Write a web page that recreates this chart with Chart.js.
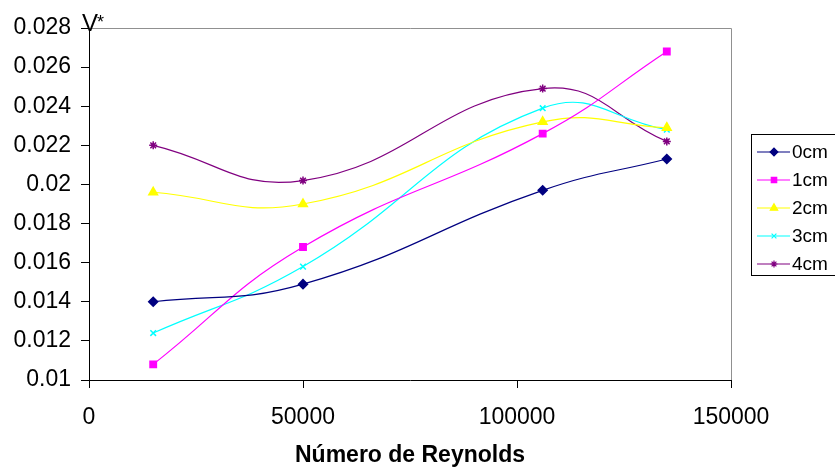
<!DOCTYPE html>
<html>
<head>
<meta charset="utf-8">
<script src="https://cdn.jsdelivr.net/npm/chart.js@4/dist/chart.umd.min.js"></script>
<style>
html,body{margin:0;padding:0;background:#fff;}
#wrap{width:835px;height:469px;position:relative;}
</style>
</head>
<body>
<div id="wrap"><canvas id="c"></canvas></div>
<script>
const reynolds = [15000, 50000, 106000, 135000];
const v0cm = [0.0140, 0.0149, 0.0197, 0.0213];
const v1cm = [0.0108, 0.0168, 0.0226, 0.0268];
const v2cm = [0.0196, 0.0190, 0.0232, 0.0229];
const v3cm = [0.0124, 0.0158, 0.0239, 0.0228];
const v4cm = [0.0220, 0.0202, 0.0249, 0.0222];
const seriesNames = ['0cm', '1cm', '2cm', '3cm', '4cm'];
const xTicks = [0, 50000, 100000, 150000];
const yTicks = [0.01, 0.012, 0.014, 0.016, 0.018, 0.02, 0.022, 0.024, 0.026, 0.028];
const xTitle = 'Número de Reynolds';
const yTitle = 'V*';

const styles = [
  {color:'#000080', point:'rectRot', r:4.5},
  {color:'#FF00FF', point:'rect', r:4.5},
  {color:'#FFFF00', point:'triangle', r:5},
  {color:'#00FFFF', point:'crossRot', r:4},
  {color:'#800080', point:'star', r:4}
];
const allSeries = [v0cm, v1cm, v2cm, v3cm, v4cm];

const datasets = allSeries.map((vals, i) => ({
  label: seriesNames[i],
  data: vals.map((v, j) => ({x: reynolds[j], y: v})),
  borderColor: styles[i].color,
  backgroundColor: styles[i].color,
  pointStyle: styles[i].point,
  pointRadius: styles[i].r,
  pointBorderWidth: 1.5,
  borderWidth: 1.2,
  tension: 0.45,
  fill: false
}));

const FONT = "'Liberation Sans', Arial, sans-serif";

const framePlugin = {
  id: 'frame',
  beforeDatasetsDraw(chart) {
    const {ctx, chartArea: a} = chart;
    ctx.save();
    ctx.strokeStyle = '#909090';
    ctx.lineWidth = 1;
    ctx.beginPath();
    ctx.moveTo(a.left, a.top + 0.5);
    ctx.lineTo(a.right + 0.5, a.top + 0.5);
    ctx.lineTo(a.right + 0.5, a.bottom);
    ctx.stroke();
    ctx.restore();
  },
  afterDraw(chart) {
    const {ctx} = chart;
    ctx.save();
    // y title
    ctx.fillStyle = '#000';
    ctx.font = '24px ' + FONT;
    ctx.textBaseline = 'alphabetic';
    ctx.textAlign = 'left';
    ctx.fillText(yTitle.charAt(0), 82, 31);
    ctx.font = '18px ' + FONT;
    ctx.fillText(yTitle.slice(1), 97, 28);
    // legend
    const bx = 751.5, by = 134.5, bw = 100, bh = 141;
    ctx.fillStyle = '#fff';
    ctx.fillRect(bx, by, bw, bh);
    ctx.strokeStyle = '#000';
    ctx.lineWidth = 1;
    ctx.strokeRect(bx, by, bw, bh);
    chart.data.datasets.forEach((ds, i) => {
      const y = 152 + i * 28;
      ctx.strokeStyle = ds.borderColor;
      ctx.lineWidth = 1.2;
      ctx.beginPath();
      ctx.moveTo(757, y);
      ctx.lineTo(790, y);
      ctx.stroke();
      ctx.fillStyle = ds.borderColor;
      ctx.strokeStyle = ds.borderColor;
      Chart.helpers.drawPoint(ctx, {pointStyle: ds.pointStyle, radius: ds.pointRadius * 0.85, borderWidth: 1.5, rotation: 0}, 774, y);
      ctx.fillStyle = '#000';
      ctx.font = '19px ' + FONT;
      ctx.textBaseline = 'middle';
      ctx.textAlign = 'left';
      ctx.fillText(ds.label, 792, y + 1);
    });
    ctx.restore();
  }
};

new Chart(document.getElementById('c'), {
  type: 'line',
  data: {datasets},
  plugins: [framePlugin],
  options: {
    responsive: true,
    maintainAspectRatio: false,
    animation: false,
    layout: {padding: {left: 0, top: 28, right: 104, bottom: 0}},
    plugins: {legend: {display: false}, tooltip: {enabled: false}},
    scales: {
      x: {
        type: 'linear',
        min: 0, max: 150000,
        afterBuildTicks(scale) { scale.ticks = xTicks.map(v => ({value: v})); },
        afterFit(scale) { scale.height = 89; },
        ticks: {
          callback: v => String(v),
          color: '#000',
          font: {family: FONT, size: 23},
          padding: 16,
          maxRotation: 0
        },
        grid: {display: true, drawOnChartArea: false, drawTicks: true, tickLength: 8, color: '#000'},
        border: {display: true, color: '#000', width: 1},
        title: {
          display: true, text: xTitle, color: '#000',
          font: {family: FONT, size: 23, weight: 'bold'},
          padding: {top: 0, bottom: 0}
        }
      },
      y: {
        type: 'linear',
        min: 0.01, max: 0.028,
        afterBuildTicks(scale) { scale.ticks = yTicks.map(v => ({value: v})); },
        afterFit(scale) { scale.width = 89; },
        ticks: {
          callback: v => String(+v.toFixed(3)),
          color: '#000',
          font: {family: FONT, size: 23},
          padding: 10
        },
        grid: {display: true, drawOnChartArea: false, drawTicks: true, tickLength: 8, color: '#000'},
        border: {display: true, color: '#000', width: 1}
      }
    }
  }
});
</script>
</body>
</html>
